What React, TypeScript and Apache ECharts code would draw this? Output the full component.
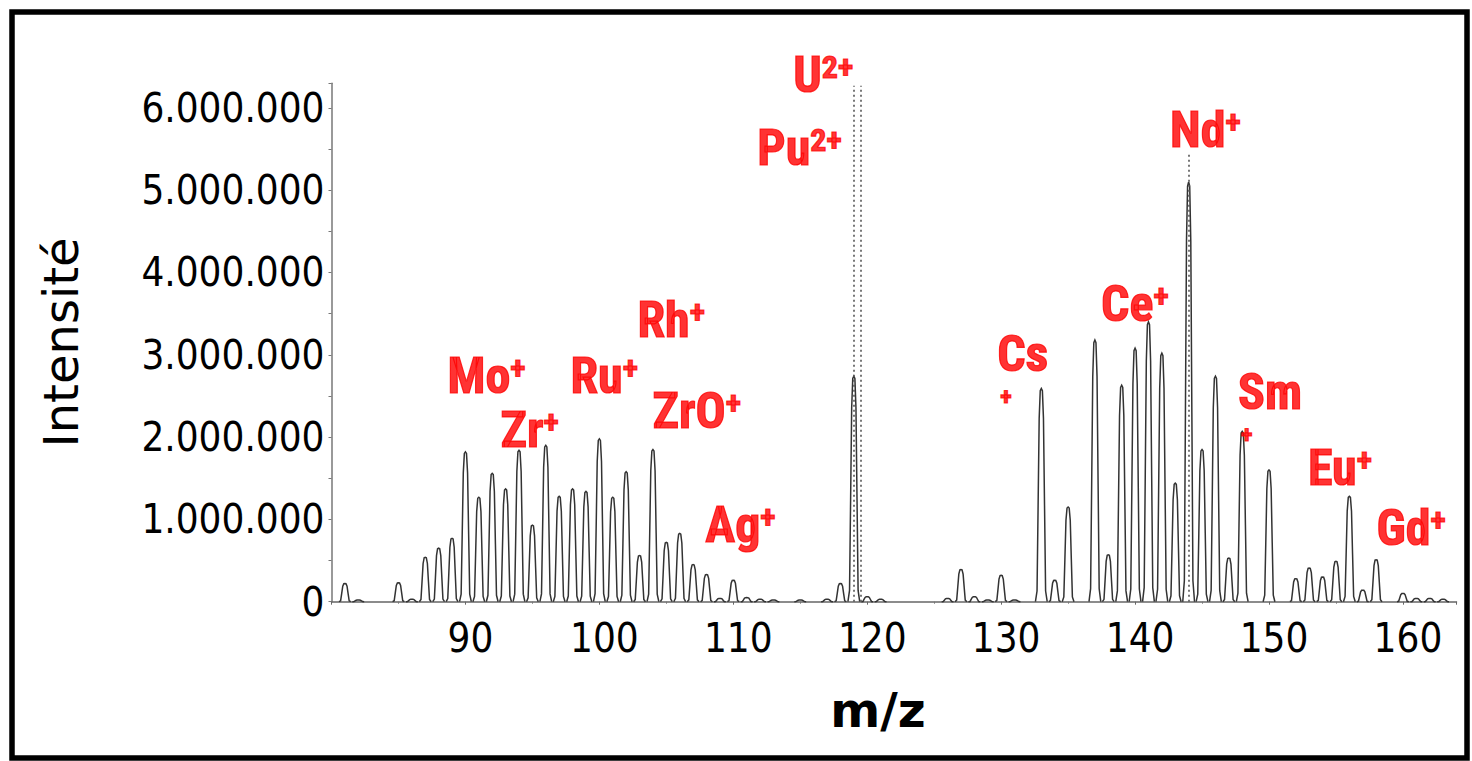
import React, { useEffect, useRef } from 'react';
import * as echarts from 'echarts';

// ---- data ----
const peakMasses = [
  81, 82, 85, 86, 87, 88, 89, 90, 91, 92, 93, 94, 95, 96, 97, 98, 99, 100, 101, 102, 103, 104, 105, 106, 107, 108, 109, 110,
  111, 112, 113, 115, 117, 118, 119, 120, 121, 126, 127, 128, 129, 130, 131, 133, 134, 135, 137, 138, 139, 140, 141, 142,
  143, 144, 145, 146, 147, 148, 150, 152, 153, 154, 155, 156, 157, 158, 160, 161, 162, 163,
];
const peakIntensities = [
  220000, 20000, 230000, 30000, 540000, 650000, 770000, 1820000, 1270000, 1560000, 1370000, 1840000, 930000, 1900000,
  1280000, 1370000, 1340000, 1980000, 1270000, 1580000, 560000, 1850000, 720000, 830000, 450000, 330000, 40000, 260000,
  50000, 30000, 20000, 20000, 30000, 220000, 2740000, 60000, 30000, 40000, 390000, 60000, 20000, 320000, 20000, 2590000,
  260000, 1150000, 3180000, 570000, 2630000, 3080000, 3400000, 3020000, 1440000, 5100000, 1850000, 2740000, 530000,
  2070000, 1600000, 280000, 410000, 300000, 490000, 1280000, 140000, 510000, 100000, 40000, 40000, 30000,
];

const yTickValues = [0, 1000000, 2000000, 3000000, 4000000, 5000000, 6000000];
const xTickLabels = [90, 100, 110, 120, 130, 140, 150, 160];

// dotted guide lines (m/z, top intensity)
const guideMz = [119, 119.55, 144];
const guideTop = [6270000, 6270000, 5450000];

// annotations: ion, charge, whether the charge sits below, anchor (m/z, intensity) of the label's top-left
const annotationIons = ['U', 'Pu', 'Nd', 'Ce', 'Cs', 'Sm', 'Eu', 'Gd', 'Mo', 'Zr', 'Ru', 'Rh', 'ZrO', 'Ag'];
const annotationCharges = ['2+', '2+', '+', '+', '+', '+', '+', '+', '+', '+', '+', '+', '+', '+'];
const annotationChargeBelow = [false, false, false, false, true, true, false, false, false, false, false, false, false, false];
const annotationMz = [114.48, 111.79, 142.61, 137.46, 129.7, 147.69, 152.91, 158.02, 88.66, 92.61, 97.84, 102.84, 103.96, 107.91];
const annotationAt = [6690000, 5800000, 6020000, 3910000, 3313000, 2852000, 1920000, 1190000, 3030000, 2380000, 3030000, 3710000, 2610000, 1220000];

// ---- styling constants ----
const PEAK_PROFILE: [number, number][] = [
  [-0.44, 0], [-0.32, 0.05], [-0.24, 0.45], [-0.16, 0.86], [-0.08, 0.99], [0, 1],
  [0.08, 0.99], [0.16, 0.86], [0.24, 0.45], [0.32, 0.05], [0.44, 0],
];
const AXIS_FONT = "'DejaVu Sans Condensed', 'DejaVu Sans', sans-serif";
const RED_FONT = "'Liberation Sans Narrow', 'Roboto Condensed', Roboto, sans-serif";
const RED = '#ff0000';

const fmtDots = (v: number) => String(Math.round(v)).replace(/\B(?=(\d{3})+(?!\d))/g, '.');

export default function App() {
  const ref = useRef<HTMLDivElement>(null);

  useEffect(() => {
    if (!ref.current) return;
    const chart = echarts.init(ref.current, undefined, { renderer: 'svg' });

    const peakData = peakMasses.map((m, i) => [m, peakIntensities[i]]);
    const annData = annotationIons.map((ion, i) => ({
      value: [annotationMz[i], annotationAt[i]],
      label: {
        formatter: annotationChargeBelow[i]
          ? `{c|${ion}}\n{p|${annotationCharges[i]}}`
          : `{b|${ion}}{s|${annotationCharges[i]}}`,
      },
    }));

    const redBase = {
      fontFamily: RED_FONT,
      fontWeight: 'bold',
      color: RED,
      textBorderColor: RED,
      textBorderWidth: 1.2,
    };

    chart.setOption({
      animation: false,
      backgroundColor: '#fff',
      grid: { left: 331.5, right: 15.5, top: 83.2, bottom: 159.3, containLabel: false },
      graphic: [
        {
          type: 'rect',
          silent: true,
          z: 100,
          shape: { x: 12, y: 12, width: 1455, height: 746 },
          style: { fill: 'none', stroke: '#000', lineWidth: 5.5 },
        },
      ],
      xAxis: {
        type: 'value',
        min: 80,
        max: 164,
        interval: 10,
        name: 'm/z',
        nameLocation: 'middle',
        nameGap: 84,
        nameTextStyle: {
          fontFamily: 'DejaVu Sans, sans-serif',
          fontWeight: 'bold',
          fontSize: 48,
          color: '#000',
          padding: [0, 32, 0, 0],
        },
        axisLine: { show: true, lineStyle: { color: '#666', width: 1.5 } },
        axisTick: { show: true, length: 3, lineStyle: { color: '#666' } },
        minorTick: { show: true, splitNumber: 2, length: 2, lineStyle: { color: '#777' } },
        splitLine: { show: false },
        axisLabel: {
          margin: 16,
          padding: [0, 0, 0, 10],
          fontFamily: AXIS_FONT,
          fontSize: 40,
          color: '#000',
          showMinLabel: false,
          showMaxLabel: false,
          formatter: (v: number) => (xTickLabels.includes(v) ? String(v) : ''),
        },
      },
      yAxis: {
        type: 'value',
        min: 0,
        max: 6300000,
        interval: 1000000,
        name: 'Intensité',
        nameLocation: 'middle',
        nameGap: 247,
        nameTextStyle: { fontFamily: 'DejaVu Sans, sans-serif', fontSize: 48, color: '#000' },
        axisLine: { show: true, lineStyle: { color: '#777', width: 1.5 } },
        axisTick: { show: true, length: 3, lineStyle: { color: '#777' } },
        minorTick: { show: true, splitNumber: 2, length: 3, lineStyle: { color: '#777' } },
        splitLine: { show: false },
        axisLabel: {
          margin: 7,
          padding: [6, 0, 0, 0],
          fontFamily: AXIS_FONT,
          fontSize: 40,
          color: '#000',
          showMaxLabel: false,
          formatter: (v: number) => (yTickValues.includes(v) ? fmtDots(v) : ''),
        },
      },
      series: [
        {
          type: 'custom',
          name: 'spectre',
          coordinateSystem: 'cartesian2d',
          encode: { x: 0, y: 1 },
          data: peakData,
          silent: true,
          renderItem: (_params: any, api: any) => {
            const m = api.value(0) as number;
            const h = api.value(1) as number;
            const pts = PEAK_PROFILE.map(([dx, f]) => api.coord([m + dx, h * f]));
            return {
              type: 'polyline',
              shape: { points: pts },
              style: { stroke: '#333', fill: 'none', lineWidth: 1.5 },
            };
          },
        },
        {
          type: 'scatter',
          name: 'annotations',
          clip: false,
          symbolSize: 0,
          silent: true,
          z: 5,
          data: annData,
          label: {
            show: true,
            position: [0, 0],
            align: 'left',
            verticalAlign: 'top',
            rich: {
              b: { ...redBase, fontSize: 50, lineHeight: 48 },
              c: { ...redBase, fontSize: 50, lineHeight: 50 },
              s: { ...redBase, fontSize: 32, lineHeight: 30, verticalAlign: 'top' },
              p: { ...redBase, fontSize: 24, lineHeight: 36, padding: [0, 0, 0, 3] },
            },
          },
          markLine: {
            silent: true,
            symbol: ['none', 'none'],
            label: { show: false },
            lineStyle: { type: [2, 3], color: '#555', width: 1.6 },
            data: guideMz.map((m, i) => [{ coord: [m, 0] }, { coord: [m, guideTop[i]] }]),
          },
        },
      ],
    });

    return () => chart.dispose();
  }, []);

  return (
    <div
      ref={ref}
      style={{ position: 'fixed', left: 0, top: 0, width: 1472, height: 761, background: '#fff' }}
    />
  );
}
